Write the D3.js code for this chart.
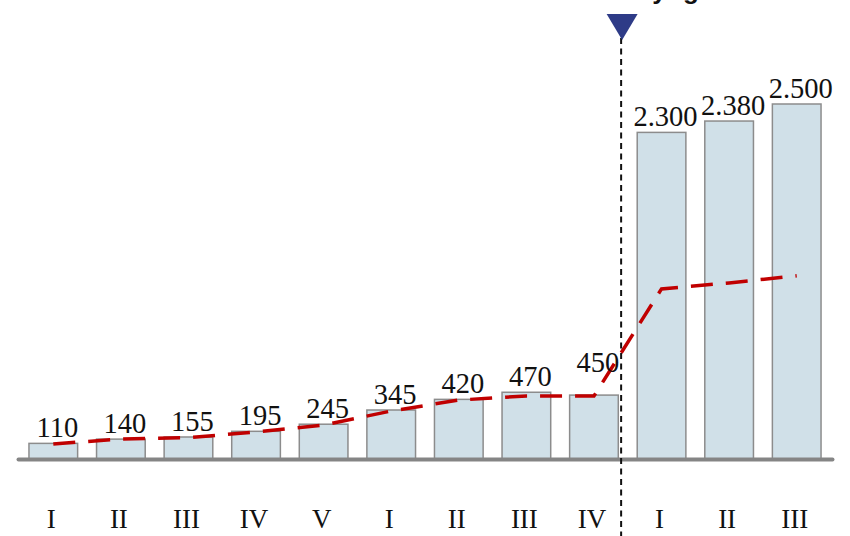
<!DOCTYPE html>
<html>
<head>
<meta charset="utf-8">
<script src="https://cdn.jsdelivr.net/npm/d3@7"></script>
<style>
  html, body { margin: 0; padding: 0; background: #ffffff; }
  svg { display: block; }
</style>
</head>
<body>
<svg id="chart" width="850" height="536"></svg>
<script>
// Quarterly values: two periods separated by the marker
const quarters = ["I", "II", "III", "IV", "V", "I", "II", "III", "IV", "I", "II", "III"];
const values   = [110, 140, 155, 195, 245, 345, 420, 470, 450, 2300, 2380, 2500];
const trend    = [106, 141, 151, 190, 239, 338, 415, 444, 444, 1198, 1240, 1290];
const splitIndex = 9;            // first bar after the marker
const markerText = "Policy growth";

const W = 850, H = 536;
const svg = d3.select("#chart");

const fmt = d3.formatLocale({ decimal: ",", thousands: ".", grouping: [3], currency: ["", ""] }).format(",");

const x = d3.scaleBand()
  .domain(d3.range(values.length))
  .range([19.5, 830.5])
  .paddingInner(0.28)
  .paddingOuter(0.14);

const y = d3.scaleLinear().domain([0, 2500]).range([459, 104]);

const cx = i => x(i) + x.bandwidth() / 2;
const serif = "'Liberation Serif', 'DejaVu Serif', serif";

// bars
svg.append("g").selectAll("rect")
  .data(values)
  .join("rect")
  .attr("x", (d, i) => x(i))
  .attr("y", d => y(d))
  .attr("width", x.bandwidth())
  .attr("height", d => y(0) - y(d))
  .attr("fill", "#d0e0e8")
  .attr("stroke", "#8c8c8c")
  .attr("stroke-width", 1.5);

// baseline
svg.append("line")
  .attr("x1", x.range()[0] - 1).attr("x2", x.range()[1] + 2)
  .attr("y1", y(0) + 0.5).attr("y2", y(0) + 0.5)
  .attr("stroke", "#858585")
  .attr("stroke-width", 4)
  .attr("stroke-linecap", "round");

// trend line
const line = d3.line().x((d, i) => cx(i)).y(d => y(d));
svg.append("path")
  .datum(trend)
  .attr("d", line)
  .attr("fill", "none")
  .attr("stroke", "#c00000")
  .attr("stroke-width", 3.5)
  .attr("stroke-dasharray", "22,13");

// value labels (the last one before the marker is lifted clear of the rising line)
svg.append("g").selectAll("text")
  .data(values)
  .join("text")
  .attr("x", (d, i) => cx(i) + 4)
  .attr("y", (d, i) => y(d) - 6 - (i === splitIndex - 1 ? 17 : 0))
  .attr("text-anchor", "middle")
  .attr("font-family", serif)
  .attr("font-size", 28.5)
  .attr("fill", "#111")
  .text(d => fmt(d));

// category labels
svg.append("g").selectAll("text")
  .data(quarters)
  .join("text")
  .attr("x", (d, i) => cx(i) - 2)
  .attr("y", 528)
  .attr("text-anchor", "middle")
  .attr("font-family", serif)
  .attr("font-size", 27)
  .attr("fill", "#111")
  .text(d => d);

// divider marker
const mx = x(splitIndex - 1) + x.bandwidth() + (x.step() - x.bandwidth()) * 0.15;
svg.append("line")
  .attr("x1", mx).attr("x2", mx)
  .attr("y1", 38).attr("y2", H)
  .attr("stroke", "#111")
  .attr("stroke-width", 2)
  .attr("stroke-dasharray", "6,4.5");

svg.append("path")
  .attr("d", `M${mx - 14.5},14 L${mx + 16.5},14 L${mx + 1},40 Z`)
  .attr("fill", "#2e3b87");

svg.append("text")
  .attr("x", mx - 31)
  .attr("y", -1)
  .attr("font-family", "'Liberation Sans', Arial, sans-serif")
  .attr("font-weight", "bold")
  .attr("font-size", 26)
  .attr("word-spacing", 9)
  .attr("fill", "#111")
  .text(markerText);
</script>
</body>
</html>
